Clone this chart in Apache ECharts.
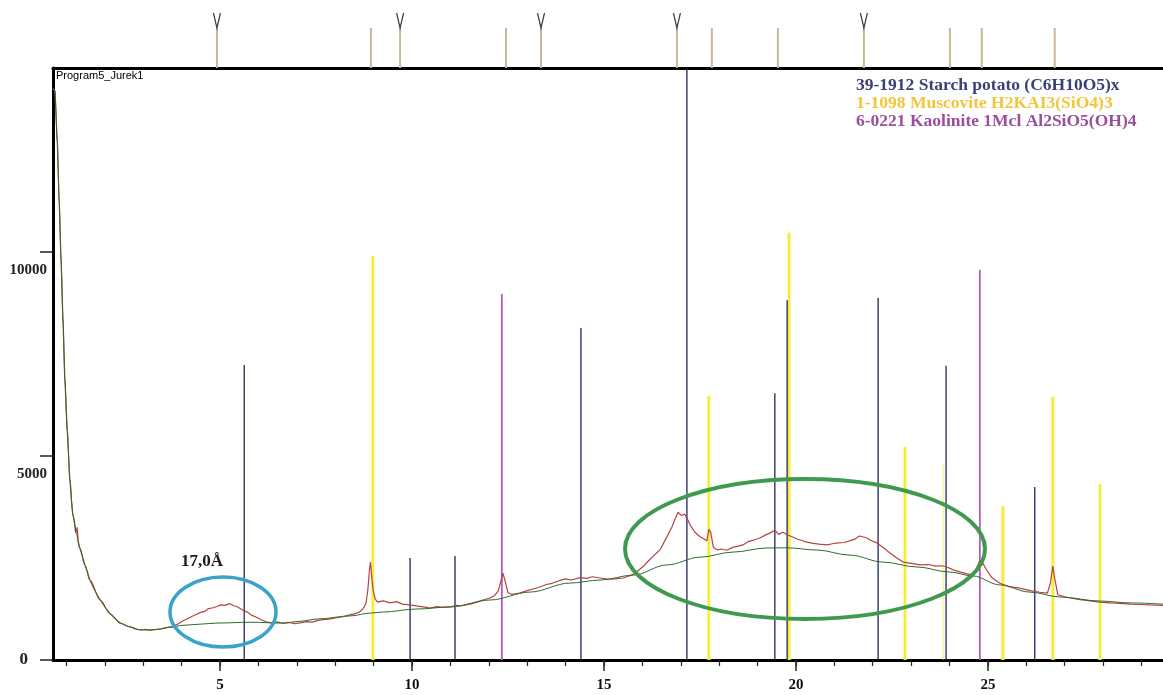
<!DOCTYPE html>
<html><head><meta charset="utf-8">
<script src="https://cdn.jsdelivr.net/npm/echarts@6/dist/echarts.min.js"></script>
<style>html,body{margin:0;padding:0;background:#fff}#c{width:1163px;height:695px}</style>
</head><body><div id="c"></div>
<script>
// ---- data (2-theta in degrees, intensity in counts) ----
const measured = [[0.65,14010],[0.70,13950],[0.76,12740],[0.81,11270],[0.86,9800],[0.91,8330],[0.96,6860],[1.02,5640],[1.09,4410],[1.13,3900],[1.17,3550],[1.21,3380],[1.25,3120],[1.28,3250],[1.31,2900],[1.35,2740],[1.41,2560],[1.48,2330],[1.55,2150],[1.61,1960],[1.70,1780],[1.80,1600],[1.88,1470],[2.00,1300],[2.14,1130],[2.27,1010],[2.40,905],[2.53,850],[2.66,810],[2.79,760],[2.92,735],[3.05,750],[3.18,730],[3.31,745],[3.44,760],[3.57,790],[3.70,810],[3.80,840],[3.90,880],[4.04,960],[4.15,1010],[4.25,1060],[4.36,1110],[4.48,1160],[4.60,1190],[4.70,1260],[4.82,1280],[4.92,1310],[5.02,1350],[5.12,1340],[5.26,1380],[5.36,1330],[5.46,1300],[5.60,1220],[5.70,1180],[5.82,1100],[5.96,1040],[6.08,980],[6.22,930],[6.35,910],[6.50,930],[6.64,900],[6.80,920],[6.95,890],[7.08,910],[7.25,940],[7.40,930],[7.55,970],[7.68,990],[7.85,1000],[8.00,1030],[8.20,1060],[8.35,1100],[8.50,1130],[8.62,1170],[8.72,1250],[8.80,1380],[8.85,1715],[8.89,2200],[8.92,2400],[8.95,2050],[8.99,1700],[9.04,1500],[9.10,1420],[9.25,1450],[9.43,1400],[9.60,1430],[9.75,1370],[9.95,1350],[10.15,1320],[10.30,1300],[10.47,1270],[10.65,1310],[10.80,1290],[10.99,1300],[11.15,1340],[11.30,1330],[11.51,1370],[11.70,1420],[11.85,1470],[12.03,1520],[12.15,1580],[12.25,1700],[12.32,1950],[12.37,2130],[12.42,1950],[12.50,1650],[12.60,1610],[12.81,1640],[13.00,1700],[13.15,1740],[13.33,1790],[13.50,1850],[13.65,1880],[13.85,1950],[14.00,1990],[14.15,1960],[14.38,2020],[14.55,2000],[14.70,2040],[14.90,2010],[15.10,1980],[15.29,1990],[15.50,2010],[15.65,2060],[15.76,2100],[15.90,2200],[16.02,2290],[16.15,2420],[16.30,2560],[16.46,2700],[16.60,2950],[16.77,3260],[16.85,3450],[16.93,3620],[17.02,3540],[17.10,3580],[17.16,3480],[17.25,3300],[17.37,3130],[17.50,3020],[17.62,2960],[17.68,2920],[17.73,3200],[17.78,3130],[17.85,2760],[17.95,2700],[18.05,2720],[18.20,2690],[18.35,2760],[18.50,2790],[18.62,2820],[18.75,2900],[18.90,2940],[19.06,2990],[19.20,3060],[19.32,3110],[19.45,3180],[19.55,3080],[19.66,3130],[19.77,3070],[19.90,3020],[20.05,2960],[20.15,2930],[20.29,2890],[20.45,2860],[20.60,2840],[20.81,2820],[20.95,2850],[21.10,2870],[21.25,2880],[21.40,2920],[21.55,2970],[21.65,3040],[21.74,3020],[21.85,2990],[21.95,2930],[22.11,2870],[22.30,2740],[22.45,2620],[22.60,2520],[22.79,2400],[23.00,2370],[23.23,2330],[23.45,2340],[23.65,2300],[23.80,2310],[23.93,2280],[24.10,2210],[24.27,2160],[24.45,2110],[24.61,2080],[24.70,2250],[24.79,2440],[24.88,2350],[24.97,2200],[25.10,2020],[25.31,1880],[25.55,1800],[25.83,1760],[26.10,1700],[26.35,1660],[26.55,1640],[26.63,1900],[26.69,2300],[26.74,2000],[26.82,1600],[27.00,1550],[27.14,1520],[27.40,1480],[27.66,1450],[27.90,1420],[28.18,1400],[28.45,1390],[28.70,1370],[28.95,1360],[29.22,1350],[29.56,1340]];

const background = [[0.65,14010],[0.70,13950],[0.76,12740],[0.81,11270],[0.86,9800],[0.91,8330],[0.96,6860],[1.02,5640],[1.09,4410],[1.17,3550],[1.25,3110],[1.35,2740],[1.48,2330],[1.61,1960],[1.88,1470],[2.14,1130],[2.40,905],[2.66,810],[2.92,740],[3.18,735],[3.44,760],[3.70,800],[4.04,850],[4.50,880],[4.92,905],[5.78,925],[6.64,905],[7.10,950],[7.53,1005],[8.39,1080],[8.91,1150],[9.24,1175],[10.13,1250],[10.99,1300],[12.03,1470],[13.07,1665],[14.11,1885],[14.90,1960],[15.76,2080],[16.64,2330],[17.50,2520],[18.36,2645],[19.24,2745],[19.77,2750],[20.55,2695],[21.41,2570],[22.27,2400],[23.15,2280],[24.01,2155],[24.61,2060],[25.31,1840],[26.09,1665],[26.88,1545],[27.92,1445],[28.70,1400],[29.56,1370]];

const starchLines = [[5.63,7230],[9.95,2500],[11.12,2550],[14.40,8140],[17.16,14500],[19.45,6540],[19.77,8820],[22.14,8870],[23.91,7210],[26.22,4240]];
const muscoviteLines = [[8.98,9900],[17.73,6470],[19.82,10470],[22.84,5220],[25.39,3770],[26.69,6450],[27.92,4310]];
const muscoviteFaint = [[23.84,4800]];
const kaoliniteLines = [[12.34,8970],[24.79,9560]];

const peakMarks = [4.92, 8.93, 9.69, 12.45, 13.36, 16.90, 17.81, 19.53, 21.77, 24.01, 24.84, 26.74];
const flaggedMarks = [4.92, 9.69, 13.36, 16.90, 21.77];

const xLabels = [5, 10, 15, 20, 25];
const xMinorTicks = [1,2,3,4,5,6,7,8,9,10,11,12,13,14,15,16,17,18,19,20,21,22,23,24,25,26,27,28,29];
const yTicks = [0, 5000, 10000];

const legendTexts = ['39-1912 Starch potato (C6H10O5)x', '1-1098 Muscovite H2KAI3(SiO4)3', '6-0221 Kaolinite 1Mcl Al2SiO5(OH)4'];
const legendColors = ['#3b3f7a', '#f2c63c', '#9a4f9c'];
const plotTitle = 'Program5_Jurek1';
const annotation = '17,0Å';

const X_MIN = 0.65, X_MAX = 29.56, Y_MAX = 14510;

// ---- chart ----
const chart = echarts.init(document.getElementById('c'), null, {renderer: 'canvas'});

function refLine(color, width, glow) {
  return function (params, api) {
    const p0 = api.coord([api.value(0), 0]);
    const p1 = api.coord([api.value(0), api.value(1)]);
    const children = [];
    if (glow) {
      children.push({type: 'line', shape: {x1: p0[0], y1: p0[1], x2: p1[0], y2: p1[1]},
        style: {stroke: glow, lineWidth: width + 3, opacity: 0.35}});
    }
    children.push({type: 'line', shape: {x1: p0[0], y1: p0[1], x2: p1[0], y2: p1[1]},
      style: {stroke: color, lineWidth: width}});
    return {type: 'group', children: children};
  };
}

const serif = '"Liberation Serif", "DejaVu Serif", serif';

const option = {
  animation: false,
  backgroundColor: '#ffffff',
  grid: [
    {left: 53, right: 0, top: 68, bottom: 35},
    {left: 53, right: 0, top: 13, height: 55}
  ],
  xAxis: [
    {gridIndex: 0, type: 'value', min: X_MIN, max: X_MAX, position: 'bottom',
      axisLine: {show: true, lineStyle: {color: '#000', width: 3}},
      axisTick: {show: true, customValues: xLabels, length: 11, lineStyle: {color: '#222', width: 1.5}},
      axisLabel: {show: true, customValues: xLabels, margin: 18, color: '#111',
        fontFamily: serif, fontWeight: 'bold', fontSize: 15},
      splitLine: {show: false}},
    {gridIndex: 0, type: 'value', min: X_MIN, max: X_MAX, position: 'bottom',
      axisLine: {show: false},
      axisTick: {show: true, customValues: xMinorTicks, length: 6, lineStyle: {color: '#222', width: 1.2}},
      axisLabel: {show: false}, splitLine: {show: false}},
    {gridIndex: 1, type: 'value', min: X_MIN, max: X_MAX, position: 'bottom',
      axisLine: {show: true, lineStyle: {color: '#000', width: 3}},
      axisTick: {show: false}, axisLabel: {show: false}, splitLine: {show: false}}
  ],
  yAxis: [
    {gridIndex: 0, type: 'value', min: 0, max: Y_MAX,
      axisLine: {show: true, lineStyle: {color: '#000', width: 3}},
      axisTick: {show: true, customValues: yTicks, length: 13, lineStyle: {color: '#222', width: 1.5}},
      axisLabel: {show: true, customValues: yTicks, margin: 6,
        formatter: function (v) { return v === 0 ? '{z|0}' : '{n|' + v + '}'; },
        rich: {
          n: {fontFamily: serif, fontWeight: 'bold', fontSize: 15, color: '#222', padding: [36, 0, 0, 0]},
          z: {fontFamily: serif, fontWeight: 'bold', fontSize: 17, color: '#222', padding: [0, 19, 0, 0]}
        }},
      splitLine: {show: false}},
    {gridIndex: 1, type: 'value', min: 0, max: 55, show: false}
  ],
  series: [
    {type: 'custom', name: 'muscovite-faint', xAxisIndex: 0, yAxisIndex: 0, z: 1,
      renderItem: refLine('rgba(240,230,80,0.45)', 2, null), data: muscoviteFaint},
    {type: 'custom', name: 'muscovite', xAxisIndex: 0, yAxisIndex: 0, z: 1,
      renderItem: refLine('#f3ec3a', 2.5, '#f8f4a0'), data: muscoviteLines},
    {type: 'custom', name: 'kaolinite', xAxisIndex: 0, yAxisIndex: 0, z: 1,
      renderItem: refLine('#b35cba', 1.8, null), data: kaoliniteLines},
    {type: 'custom', name: 'starch', xAxisIndex: 0, yAxisIndex: 0, z: 2,
      renderItem: refLine('#22225c', 1.3, null), data: starchLines},
    {type: 'line', name: 'measured', xAxisIndex: 0, yAxisIndex: 0, z: 3,
      data: measured, showSymbol: false, symbol: 'none',
      lineStyle: {color: '#b4443f', width: 1.2}},
    {type: 'line', name: 'background', xAxisIndex: 0, yAxisIndex: 0, z: 4,
      data: background, showSymbol: false, symbol: 'none', smooth: 0.35, smoothMonotone: 'x',
      lineStyle: {color: '#2f6a2c', width: 1}},
    {type: 'custom', name: 'marks', xAxisIndex: 2, yAxisIndex: 1, z: 2,
      renderItem: function (params, api) {
        const p0 = api.coord([api.value(0), 0]);
        const p1 = api.coord([api.value(0), 40]);
        return {type: 'line', shape: {x1: p0[0], y1: p0[1], x2: p1[0], y2: p1[1]},
          style: {stroke: '#c8b894', lineWidth: 2}};
      },
      data: peakMarks.map(function (v) { return [v]; })},
    {type: 'custom', name: 'flags', xAxisIndex: 2, yAxisIndex: 1, z: 3,
      renderItem: function (params, api) {
        const b = api.coord([api.value(0), 40]);
        const t = api.coord([api.value(0), 55]);
        return {type: 'polyline', shape: {points: [[b[0] - 3.5, t[1]], [b[0], b[1]], [b[0] + 3.5, t[1]]]},
          style: {stroke: '#3c3c3c', lineWidth: 1.2, fill: null}};
      },
      data: flaggedMarks.map(function (v) { return [v]; })}
  ],
  graphic: [
    {type: 'text', left: 56, top: 70, z: 10,
      style: {text: plotTitle, font: '11px "Liberation Sans", Arial, sans-serif', fill: '#000'}},
    {type: 'text', left: 856, top: 76, z: 10,
      style: {text: legendTexts[0], font: 'bold 17.5px ' + serif, fill: legendColors[0]}},
    {type: 'text', left: 856, top: 94, z: 10,
      style: {text: legendTexts[1], font: 'bold 17.5px ' + serif, fill: legendColors[1]}},
    {type: 'text', left: 856, top: 112, z: 10,
      style: {text: legendTexts[2], font: 'bold 17.5px ' + serif, fill: legendColors[2]}},
    {type: 'text', left: 181, top: 553, z: 10,
      style: {text: annotation, font: 'bold 17px ' + serif, fill: '#1a1a1a'}},
    {type: 'ellipse', z: 10, shape: {cx: 223, cy: 612, rx: 53, ry: 35},
      style: {fill: null, stroke: '#3aa3c9', lineWidth: 3.5}},
    {type: 'ellipse', z: 10, shape: {cx: 805, cy: 549, rx: 180, ry: 70},
      style: {fill: null, stroke: '#3f9a4f', lineWidth: 4}}
  ]
};
chart.setOption(option);
</script>
</body></html>
